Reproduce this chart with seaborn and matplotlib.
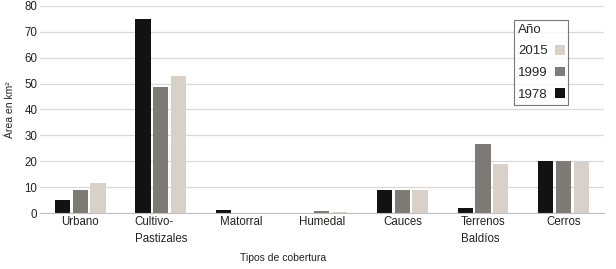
import pandas as pd
import matplotlib
matplotlib.use("Agg")
import matplotlib.pyplot as plt
import seaborn as sns

# tipos de cobertura, area en km2 por año
tipos = ["Urbano", "Cultivo-\nPastizales", "Matorral", "Humedal", "Cauces", "Terrenos\nBaldíos", "Cerros"]
anios = ["1978", "1999", "2015"]
v1978 = [5.0, 75.0, 1.0, 0.0, 9.0, 2.0, 20.0]
v1999 = [8.9, 48.5, 0.0, 0.6, 9.0, 26.5, 20.0]
v2015 = [11.7, 53.0, 0.0, 0.5, 9.0, 19.0, 20.0]

rows = []
for anio, vals in zip(anios, [v1978, v1999, v2015]):
    for t, v in zip(tipos, vals):
        rows.append({"tipo": t, "anio": anio, "area": v})
df = pd.DataFrame(rows)

sns.set_style("white")
plt.rcParams['font.family'] = ['Liberation Sans', 'DejaVu Sans']

fig, ax = plt.subplots(figsize=(6.16, 2.69), dpi=100)
fig.subplots_adjust(left=0.065, right=0.98, top=0.978, bottom=0.208)

paleta = {"1978": "#121212", "1999": "#7e7a76", "2015": "#d7d1c9"}
sns.barplot(data=df, x="tipo", y="area", hue="anio", hue_order=anios,
            palette=paleta, width=0.66, gap=0.14, saturation=1,
            linewidth=0, ax=ax)

ax.set_ylim(0, 80)
ax.set_yticks(range(0, 81, 10))
ax.yaxis.grid(True, color="#d9d9d9", linewidth=0.9)
ax.set_axisbelow(True)
for s in ["top", "right", "left"]:
    ax.spines[s].set_visible(False)
ax.spines["bottom"].set_color("#bfbfbf")
ax.tick_params(axis="both", length=0, labelsize=8.3, colors="#222222", pad=2)
for lab in ax.get_xticklabels():
    lab.set_multialignment("left")
    lab.set_verticalalignment("top")
    lab.set_linespacing(1.55)

ax.set_ylabel("Área en km²", fontsize=7.5, color="#222222", labelpad=7)
ax.set_xlabel("Tipos de cobertura", fontsize=7.5, color="#222222")
ax.xaxis.set_label_coords(0.432, -0.195)

handles, labels = ax.get_legend_handles_labels()
leg = ax.legend(handles[::-1], labels[::-1], title="Año", loc="upper left",
                bbox_to_anchor=(0.83, 0.965), markerfirst=False, fontsize=9.5,
                title_fontsize=9.5, frameon=True, fancybox=False,
                handlelength=0.75, handleheight=0.75, labelspacing=0.7,
                borderpad=0.3, handletextpad=0.5)
leg._legend_box.align = "left"
leg.get_frame().set_edgecolor("#555555")
leg.get_frame().set_linewidth(0.8)

fig.savefig("out.png", dpi=100)
